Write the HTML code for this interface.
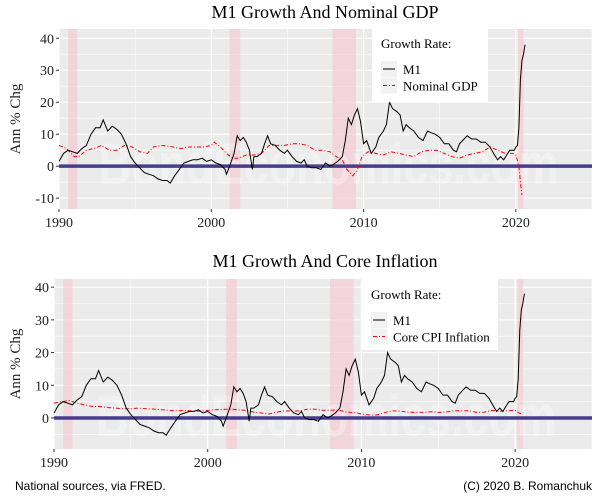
<!DOCTYPE html>
<html><head><meta charset="utf-8"><style>
body{margin:0;background:#fff}
svg{display:block;font-family:"Liberation Serif",serif}
</style></head><body>
<svg id="c" width="600" height="500" xmlns="http://www.w3.org/2000/svg"></svg>
<script>
const m1Years=[1990.0,1990.3,1990.6,1990.9,1991.2,1991.5,1991.8,1992.1,1992.4,1992.7,1992.9,1993.2,1993.5,1993.8,1994.1,1994.4,1994.7,1995.0,1995.3,1995.6,1995.9,1996.2,1996.5,1996.8,1997.1,1997.3,1997.6,1997.9,1998.2,1998.5,1998.8,1999.1,1999.4,1999.7,2000,2000.3,2000.6,2000.9,2001.0,2001.2,2001.5,2001.7,2001.9,2002.1,2002.3,2002.5,2002.7,2002.8,2003.0,2003.3,2003.5,2003.7,2003.9,2004.2,2004.5,2004.8,2005.0,2005.3,2005.6,2005.9,2006.1,2006.3,2006.6,2006.9,2007.2,2007.5,2007.8,2008.0,2008.3,2008.6,2008.8,2009.0,2009.2,2009.4,2009.6,2009.8,2010.0,2010.2,2010.5,2010.8,2011.0,2011.3,2011.5,2011.7,2011.9,2012.2,2012.4,2012.6,2012.8,2013.0,2013.3,2013.6,2013.9,2014.2,2014.4,2014.7,2015.0,2015.3,2015.6,2015.9,2016.1,2016.3,2016.5,2016.8,2017.1,2017.4,2017.7,2018.0,2018.3,2018.6,2018.8,2019.0,2019.2,2019.4,2019.6,2019.9,2020.0,2020.1,2020.2,2020.3,2020.4,2020.5,2020.6];
const m1Values=[1.5,4,5,4.5,4,5.5,6.5,10,12,12,14.5,11,12.5,11.5,10,7,3,1,-0.5,-2,-2.5,-3,-4,-4.5,-4.5,-5.3,-3,-1,1,1.5,2,2,2.5,1.5,2,1,0.5,-1,-2.5,0,4,9.5,8,9,7.5,5,-1,3,3,4,7,9.5,7,6.5,5,4,5,3,1.5,1,2,0,-0.5,-0.5,-1,1,0,0.5,1.5,3,8,15,13,16,18,14,7,8,4,6,9,11,13,20,18,17,16,11,13,12,11,9,8,11,10.5,10,9,7,7,5,4.5,7,8,9.5,8.5,8.5,7.5,7.5,6,3.5,2,3,2,3.5,5,5,6,6.5,12,27,33,35,38];
const gdpYears=[1990,1990.5,1991,1991.3,1991.8,1992.3,1992.8,1993.3,1993.8,1994.3,1994.8,1995.3,1995.8,1996.2,1996.8,1997.5,1998,1998.5,1999,1999.5,2000,2000.2,2000.6,2001,2001.4,2001.8,2002.3,2002.8,2003.3,2003.8,2004.3,2004.8,2005.3,2005.8,2006.3,2006.8,2007.3,2007.8,2008.2,2008.6,2008.9,2009.3,2009.6,2009.9,2010.3,2010.8,2011.3,2011.8,2012.3,2012.8,2013.3,2013.8,2014.3,2014.8,2015.3,2015.8,2016.3,2016.8,2017.3,2017.8,2018.3,2018.8,2019.3,2019.8,2020.0,2020.2,2020.3,2020.4];
const gdpValues=[6.5,5.5,3,3,5,5.5,6.5,5,5,6.5,6,4.5,4,6,6.5,6,5.5,6,6,6,6.5,7.5,6,4,2.5,2.5,3.5,3.5,4,6.5,6.5,6.5,7,7,6.5,5,5,4.5,3,2,-1,-3,-1,3,4.5,4,3.5,4.5,4,3.5,3,4.5,5,5,4,3,2.5,3.5,4,4.5,6,5,4,4,3.5,0,-5,-9];
const cpiYears=[1990,1990.5,1991,1991.5,1992,1992.5,1993,1993.5,1994,1994.5,1995,1995.5,1996,1996.5,1997,1997.5,1998,1998.5,1999,1999.5,2000,2000.5,2001,2001.5,2002,2002.5,2003,2003.5,2004,2004.5,2005,2005.5,2006,2006.5,2007,2007.5,2008,2008.5,2009,2009.5,2010,2010.5,2011,2011.5,2012,2012.5,2013,2013.5,2014,2014.5,2015,2015.5,2016,2016.5,2017,2017.5,2018,2018.5,2019,2019.5,2020,2020.3,2020.5];
const cpiValues=[4.5,5,5.3,4.5,4,3.5,3.5,3.2,3,2.8,2.8,3,2.8,2.7,2.5,2.3,2.2,2.3,2.1,2.1,2.3,2.5,2.6,2.7,2.5,2.3,1.8,1.5,1.2,1.8,2.2,2.1,2.2,2.7,2.7,2.3,2.4,2.4,1.8,1.7,1.2,0.9,0.9,1.6,2.2,2.1,1.8,1.7,1.7,1.9,1.7,1.8,2.2,2.2,2.2,1.7,1.8,2.3,2.1,2.2,2.3,1.4,1.2];
const recessions=[[1990.6,1991.2],[2001.2,2001.9],[2007.95,2009.5],[2020.15,2020.5]];
const xTicks=[1990,2000,2010,2020];
const yTicksTop=[-10,0,10,20,30,40];
const yTicksBot=[0,10,20,30,40];

const NS="http://www.w3.org/2000/svg";
const svg=document.getElementById('c');
function mk(tag,attrs,parent,name){const e=document.createElementNS(NS,tag);for(const k in attrs)e.setAttribute(k,attrs[k]);


(parent||svg).appendChild(e);return e;}

function panel(o){
  const g=mk('g',{},svg,o.name);
  const X=v=>o.l+(v-1990)/(2025-1990)*(o.r-o.l);
  const Y=v=>o.t+(o.ymax-v)/(o.ymax-o.ymin)*(o.b-o.t);
  mk('rect',{x:o.l,y:o.t,width:o.r-o.l,height:o.b-o.t,fill:'#ebebeb'},g,'plot-background');
  for(let v=-15;v<=45;v+=5){if(v<o.ymin||v>o.ymax)continue;const maj=v%10===0;
    mk('line',{x1:o.l,x2:o.r,y1:Y(v),y2:Y(v),stroke:'#fff','stroke-width':maj?1.1:0.55},g,maj?'y-gridline':'y-minor-gridline');}
  for(let v=1990;v<=2025;v+=5){const maj=v%10===0;
    mk('line',{x1:X(v),x2:X(v),y1:o.t,y2:o.b,stroke:'#fff','stroke-width':maj?1.1:0.55},g,maj?'x-gridline':'x-minor-gridline');}
  recessions.forEach(r=>{mk('rect',{x:X(r[0]),y:o.t,width:X(r[1])-X(r[0]),height:o.b-o.t,fill:'#f5c6cf',opacity:0.6},g,'recession-band');});
  const wm=mk('text',{x:(o.l+o.r)/2+3,y:Y(0)+o.wmoff,'text-anchor':'middle','font-family':'Liberation Sans, sans-serif','font-weight':'bold','font-size':58,fill:'#fff',opacity:0.32,textLength:460,lengthAdjust:'spacingAndGlyphs'},g,'watermark');
  wm.textContent='BondEconomics.com';
  mk('line',{x1:o.l,x2:o.r,y1:Y(0),y2:Y(0),stroke:'#483d8b','stroke-width':3.5},g,'zero-line');
  const path=(xs,ys)=>xs.map((x,i)=>(i?'L':'M')+X(x).toFixed(1)+','+Y(ys[i]).toFixed(1)).join('');
  mk('path',{d:path(o.s2x,o.s2y),fill:'none',stroke:'#ff0000','stroke-width':1,'stroke-dasharray':'4,2,1,2'},g,o.s2name);
  mk('path',{d:path(m1Years,m1Values),fill:'none',stroke:'#000','stroke-width':1},g,'m1-line');
  o.yt.forEach(v=>{mk('line',{x1:o.l-3,x2:o.l,y1:Y(v),y2:Y(v),stroke:'#333'},g,'y-tick');
    const t=mk('text',{x:o.l-5,y:Y(v)+5,'text-anchor':'end','font-size':14,fill:'#222'},g,'y-tick-label');t.textContent=v;});
  xTicks.forEach(v=>{mk('line',{x1:X(v),x2:X(v),y1:o.b,y2:o.b+3,stroke:'#333'},g,'x-tick');
    const t=mk('text',{x:X(v),y:o.b+18,'text-anchor':'middle','font-size':14,fill:'#222'},g,'x-tick-label');t.textContent=v;});
  const tt=mk('text',{x:325,y:o.titleY,'text-anchor':'middle','font-size':18,fill:'#000'},g,'chart-title');tt.textContent=o.title;
  const yl=mk('text',{x:0,y:0,'text-anchor':'middle','font-size':15,fill:'#222',transform:`translate(20,${(o.t+o.b)/2}) rotate(-90)`},g,'y-axis-title');yl.textContent='Ann % Chg';
  const L=o.leg;const lg=mk('g',{},g,'legend');
  mk('rect',{x:L.x,y:L.y,width:L.w,height:L.h,fill:'#fff'},lg,'legend-box');
  const lt=mk('text',{x:L.x+9,y:L.y+20,'font-size':13},lg,'legend-title');lt.textContent='Growth Rate:';
  [['M1','#000','none'],[o.s2label,'#ff0000','4,2,1,2']].forEach((e,i)=>{
    const yy=L.y+41+i*16.5;
    mk('rect',{x:L.x+9,y:yy-8,width:16,height:16,fill:'#f2f2f2'},lg,'legend-key');
    mk('line',{x1:L.x+11,x2:L.x+23,y1:yy,y2:yy,stroke:e[1],'stroke-dasharray':e[2]},lg,'legend-key-line');
    const t=mk('text',{x:L.x+31,y:yy+5,'font-size':13},lg,'legend-entry');t.textContent=e[0];});
}
panel({name:'top-panel',l:59,r:592,t:29,b:209,ymin:-13.4,ymax:42.9,yt:yTicksTop,s2x:gdpYears,s2y:gdpValues,s2name:'nominal-gdp-line',s2label:'Nominal GDP',title:'M1 Growth And Nominal GDP',titleY:18,wmoff:18,leg:{x:372,y:28,w:116,h:74}});
panel({name:'bottom-panel',l:54,r:592,t:279,b:449,ymin:-9.5,ymax:42.5,yt:yTicksBot,s2x:cpiYears,s2y:cpiValues,s2name:'core-cpi-line',s2label:'Core CPI Inflation',title:'M1 Growth And Core Inflation',titleY:267,wmoff:18,leg:{x:362,y:279,w:136,h:71}});
const f1=mk('text',{x:15,y:490,'font-family':'Liberation Sans, sans-serif','font-size':12,fill:'#000'},svg,'source-note');f1.textContent='National sources, via FRED.';
const f2=mk('text',{x:592,y:490,'text-anchor':'end','font-family':'Liberation Sans, sans-serif','font-size':12,fill:'#000'},svg,'copyright-note');f2.textContent='(C) 2020 B. Romanchuk';
</script>
</body></html>
